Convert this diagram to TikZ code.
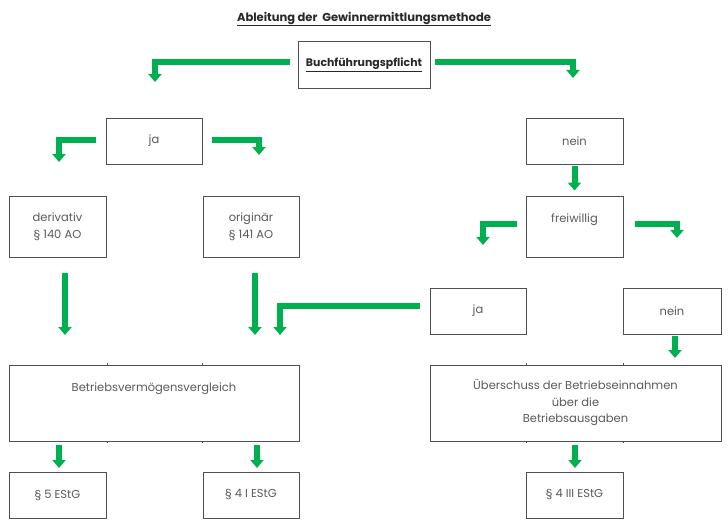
\documentclass[tikz,border=0pt]{standalone}
\usepackage{fontspec}
\setmainfont{Poppins}
\usetikzlibrary{arrows.meta}
\definecolor{agreen}{RGB}{0,176,80}
\definecolor{tgray}{RGB}{90,90,90}
\definecolor{bgray}{RGB}{80,80,80}
\begin{document}
\begin{tikzpicture}[x=1pt,y=-1pt,
  box/.style={draw=bgray, line width=0.9pt, inner sep=0pt, text=tgray, align=center, font=\fontsize{11.5}{17}\selectfont},
  txt/.style={inner sep=0pt, text=tgray, align=center, font=\fontsize{11.5}{17}\selectfont},
  garrow/.style={draw=agreen, line width=6pt, line join=miter, -{Triangle[width=13pt,length=8pt]}},
  tick/.style={draw=bgray, line width=0.6pt},
]
\useasboundingbox[fill=white] (0,0) rectangle (728,529);

\node[inner sep=0pt, text={rgb,255:red,40;green,40;blue,40}, font=\fontsize{11.5}{12}\selectfont\bfseries] (title) at (364,19) {\underline{Ableitung der\ \ Gewinnermittlungsmethode}};

\node[box, minimum width=132, minimum height=47, text={rgb,255:red,40;green,40;blue,40}, font=\fontsize{10.9}{12}\selectfont\bfseries] (bfp) at (364,64.5) {\underline{Buchführungspflicht}};

\node[box, minimum width=96, minimum height=46] (ja1) at (154,141) {ja};
\node[box, minimum width=97, minimum height=61] (deriv) at (57.5,226.5) {derivativ\\§ 140 AO};
\node[box, minimum width=96, minimum height=61] (orig) at (251,226.5) {originär\\§ 141 AO};

\node[box, minimum width=97, minimum height=46] (nein1) at (574.5,141) {nein};
\node[box, minimum width=97, minimum height=61] (frei) at (574.5,226.5) {};
\node[txt, anchor=north] (freit) at ([yshift=-18pt]frei.north) {freiwillig};

\node[box, minimum width=96, minimum height=46] (ja2) at (478,311) {ja};
\node[box, minimum width=98, minimum height=46] (nein2) at (672,311) {nein};

\node[box, minimum width=290, minimum height=76] (bvv) at (154,403) {};
\node[txt, anchor=north] (bvvt) at ([yshift=-18pt]bvv.north) {Betriebsvermögensvergleich};
\node[box, minimum width=291, minimum height=76, font=\fontsize{11.5}{16.5}\selectfont] (ueb) at (575.5,403) {Überschuss der Betriebseinnahmen\\über die\\Betriebsausgaben};

\node[box, minimum width=97, minimum height=46] (p5) at (57.5,495) {§ 5 EStG};
\node[box, minimum width=96, minimum height=46] (p4i) at (251,495) {§ 4 I EStG};
\node[box, minimum width=97, minimum height=46] (p4iii) at (574.5,495) {§ 4 III EStG};

% small ticks on big boxes
\foreach \xx in {107,202} {
  \draw[tick] (\xx,365) -- (\xx,363);
  \draw[tick] (\xx,441) -- (\xx,443);
}
\foreach \xx in {526,623} {
  \draw[tick] (\xx,365) -- (\xx,363);
  \draw[tick] (\xx,441) -- (\xx,443);
}

% free ends
\coordinate (t1) at (155,82);
\coordinate (t2) at (573,78);
\coordinate (t3) at (59,162);
\coordinate (t4) at (259,155);
\coordinate (t6) at (483,245);
\coordinate (t7) at (677,238);
\coordinate (t8) at (65,335);
\coordinate (t9) at (255,335);
\coordinate (t10) at (280,335);
\coordinate (t11) at (675,358);
\coordinate (t12) at (59,468);
\coordinate (t13) at (257,468);
\coordinate (t14) at (575,468);

\draw[garrow] ([shift={(-8,-2.5)}]bfp.west) -| (t1);
\draw[garrow] ([shift={(5,-2.5)}]bfp.east) -| (t2);
\draw[garrow] ([shift={(-10,-1)}]ja1.west) -| (t3);
\draw[garrow] ([shift={(10,-1)}]ja1.east) -| (t4);
\draw[garrow] ([yshift=-2pt]nein1.south) -- ([yshift=5pt]frei.north);
\draw[garrow] ([shift={(-9,-2.5)}]frei.west) -| (t6);
\draw[garrow] ([shift={(12,-2.5)}]frei.east) -| (t7);
\draw[garrow] ([shift={(7.5,16)}]deriv.south) -- (t8);
\draw[garrow] ([shift={(4,16)}]orig.south) -- (t9);
\draw[garrow] ([shift={(-10,-5)}]ja2.west) -| (t10);
\draw[garrow] ([shift={(3,2)}]nein2.south) -- (t11);
\draw[garrow] ([shift={(-95,4)}]bvv.south) -- (t12);
\draw[garrow] ([shift={(103,4)}]bvv.south) -- (t13);
\draw[garrow] ([shift={(-0.5,4)}]ueb.south) -- (t14);
\end{tikzpicture}
\end{document}
